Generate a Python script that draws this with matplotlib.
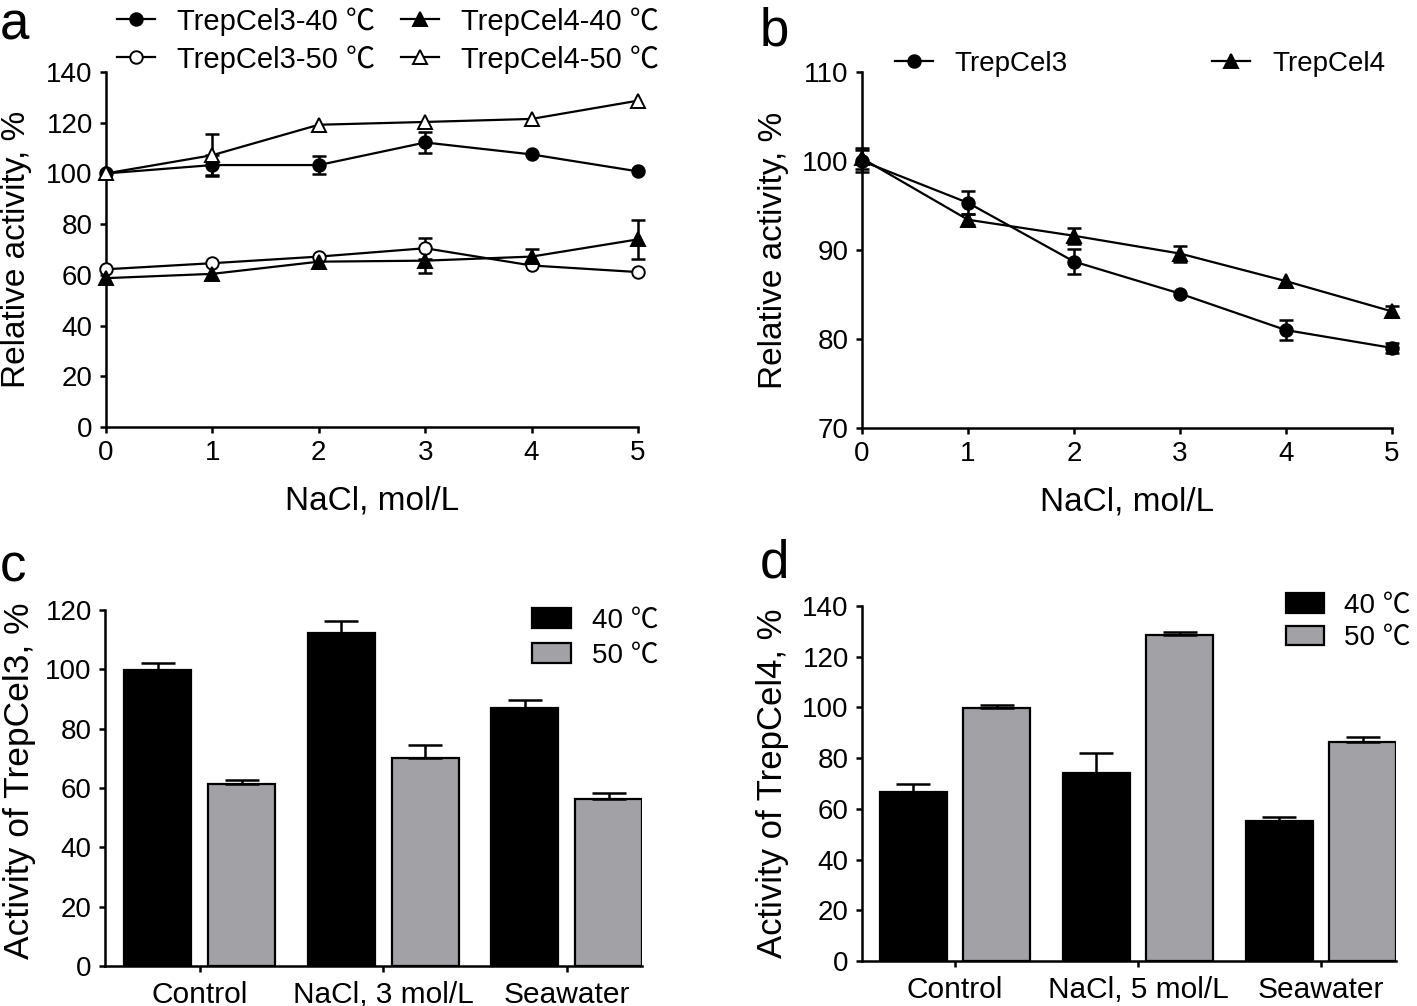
import matplotlib
matplotlib.use('Agg')
import matplotlib.pyplot as plt
from matplotlib.lines import Line2D
from matplotlib.patches import Patch
import numpy as np

plt.rcParams['font.family'] = ['Liberation Sans', 'Noto Sans CJK SC']

# ---------------- data ----------------
nacl = [0, 1, 2, 3, 4, 5]

# panel a
a_cel3_40 = [100.0, 103.3, 103.3, 112.2, 107.5, 100.8]
a_cel3_40_err = [0, 4.0, 3.5, 4.0, 0, 0]
a_cel3_50 = [62.2, 64.6, 67.2, 70.5, 63.7, 61.1]
a_cel3_50_err = [0, 0, 0, 4.2, 0, 0]
a_cel4_40 = [58.7, 60.4, 65.2, 65.6, 67.2, 74.0]
a_cel4_40_err = [0, 0, 0, 5.0, 3.0, 7.8]
a_cel4_50 = [100.0, 107.2, 119.2, 120.3, 121.5, 128.7]
a_cel4_50_err = [0, 8.4, 0, 0, 0, 0]

# panel b
b_cel3 = [100.0, 95.3, 88.7, 85.1, 81.0, 79.0]
b_cel3_err = [1.2, 1.3, 1.4, 0, 1.1, 0.6]
b_cel4 = [100.3, 93.4, 91.6, 89.6, 86.5, 83.1]
b_cel4_err = [1.2, 0.6, 0.9, 0.9, 0, 0.6]

# panel c
c_categories = ['Control', 'NaCl, 3 mol/L', 'Seawater']
c_40 = [99.8, 112.1, 87.0]
c_40_err = [2.2, 4.3, 2.8]
c_50 = [61.5, 70.0, 56.2]
c_50_err = [1.2, 4.4, 2.1]

# panel d
d_categories = ['Control', 'NaCl, 5 mol/L', 'Seawater']
d_40 = [66.8, 74.1, 55.2]
d_40_err = [2.9, 7.9, 1.6]
d_50 = [99.8, 128.4, 86.5]
d_50_err = [1.2, 1.3, 2.0]

temp_labels = ['40 ℃', '50 ℃']

# ---------------- figure ----------------
W, H = 1417, 1006
fig = plt.figure(figsize=(W / 100, H / 100), dpi=100)


def px_axes(left, right, top, bottom):
    return fig.add_axes([left / W, 1 - bottom / H, (right - left) / W, (bottom - top) / H])


GRAY = '#A1A1A6'
LW = 1.8
FS_TICK = 20
FS_LAB = 24


def style(ax):
    for s in ['top', 'right']:
        ax.spines[s].set_visible(False)
    for s in ['left', 'bottom']:
        ax.spines[s].set_linewidth(LW)
    ax.tick_params(direction='out', length=4.5, width=LW, labelsize=FS_TICK, pad=5)


def line_series(ax, x, y, err, marker, filled):
    x = np.asarray(x); y = np.asarray(y); err = np.asarray(err)
    m = err > 0
    if m.any():
        ax.errorbar(x[m], y[m], yerr=err[m], fmt='none', ecolor='black',
                    elinewidth=1.8, capsize=5, capthick=1.8, zorder=2, clip_on=False)
    ax.plot(x, y, color='black', lw=1.6, marker=marker, markersize=9 if marker == 'o' else 10,
            markerfacecolor='black' if filled else 'white', markeredgecolor='black',
            markeredgewidth=1.4, zorder=3, clip_on=False)


# ---------- panel a ----------
axa = px_axes(106, 638, 72, 427)
style(axa)
line_series(axa, nacl, a_cel3_40, a_cel3_40_err, 'o', True)
line_series(axa, nacl, a_cel3_50, a_cel3_50_err, 'o', False)
line_series(axa, nacl, a_cel4_40, a_cel4_40_err, '^', True)
line_series(axa, nacl, a_cel4_50, a_cel4_50_err, '^', False)
axa.set_xlim(0, 5)
axa.set_ylim(0, 140)
axa.set_xticks(nacl)
axa.set_yticks(np.arange(0, 141, 20))
axa.set_xlabel('NaCl, mol/L', fontsize=FS_LAB, labelpad=14)
axa.set_ylabel('Relative activity, %', fontsize=FS_LAB)
axa.yaxis.set_label_coords(-0.14, 0.5)

def lh(marker, filled):
    return Line2D([], [], color='black', lw=1.6, marker=marker, markersize=9 if marker == 'o' else 10,
                  markerfacecolor='black' if filled else 'white', markeredgecolor='black', markeredgewidth=1.4)

handles_a = [lh('o', True), lh('o', False), lh('^', True), lh('^', False)]
labels_a = ['TrepCel3-40 ℃', 'TrepCel3-50 ℃', 'TrepCel4-40 ℃', 'TrepCel4-50 ℃']
fig.legend(handles_a, labels_a, ncol=2, frameon=False, fontsize=21, loc='upper left',
           bbox_to_anchor=(117 / W, 1 - 7 / H), borderpad=0, borderaxespad=0,
           handlelength=1.3, handletextpad=0.75, columnspacing=0.9, labelspacing=0.33)

# ---------- panel b ----------
axb = px_axes(862, 1392, 72, 428)
style(axb)
line_series(axb, nacl, b_cel3, b_cel3_err, 'o', True)
line_series(axb, nacl, b_cel4, b_cel4_err, '^', True)
axb.set_xlim(0, 5)
axb.set_ylim(70, 110)
axb.set_xticks(nacl)
axb.set_yticks(np.arange(70, 111, 10))
axb.set_xlabel('NaCl, mol/L', fontsize=FS_LAB, labelpad=14)
axb.set_ylabel('Relative activity, %', fontsize=FS_LAB)
axb.yaxis.set_label_coords(-0.137, 0.5)
fig.legend([lh('o', True), lh('^', True)], ['TrepCel3', 'TrepCel4'], ncol=2, frameon=False,
           fontsize=20, loc='upper left', bbox_to_anchor=(895 / W, 1 - 51 / H), borderpad=0,
           borderaxespad=0, handlelength=1.35, handletextpad=0.8, columnspacing=5.2)


# ---------- bar panels ----------
def bar_panel(ax, cats, v40, e40, v50, e50, ymax, xlim):
    style(ax)
    x = np.arange(len(cats))
    off, w = 0.228, 0.365
    ax.bar(x - off, v40, width=w, color='black', edgecolor='black', linewidth=1.6, zorder=2)
    ax.bar(x + off, v50, width=w, color=GRAY, edgecolor='black', linewidth=1.6, zorder=2)
    ax.errorbar(x - off, v40, yerr=[np.zeros(len(x)), e40], fmt='none', ecolor='black',
                elinewidth=1.8, capsize=12, capthick=1.8, zorder=3)
    ax.errorbar(x + off, v50, yerr=[np.zeros(len(x)), e50], fmt='none', ecolor='black',
                elinewidth=1.8, capsize=12, capthick=1.8, zorder=3)
    ax.set_xlim(*xlim)
    ax.set_ylim(0, ymax)
    ax.set_xticks(x)
    ax.set_xticklabels(cats, fontsize=21.5)
    ax.set_yticks(np.arange(0, ymax + 1, 20))
    ax.tick_params(axis='x', pad=6)


axc = px_axes(105, 642, 610, 966)
bar_panel(axc, c_categories, c_40, c_40_err, c_50, c_50_err, 120, (-0.516, 2.41))
axc.set_ylabel('Activity of TrepCel3, %', fontsize=25.5)
axc.yaxis.set_label_coords(-0.128, 0.52)

axd = px_axes(862, 1396, 606, 961)
bar_panel(axd, d_categories, d_40, d_40_err, d_50, d_50_err, 140, (-0.508, 2.41))
axd.set_ylabel('Activity of TrepCel4, %', fontsize=25)
axd.yaxis.set_label_coords(-0.137, 0.5)

bar_handles = [Patch(facecolor='black', edgecolor='black', linewidth=1.6),
               Patch(facecolor=GRAY, edgecolor='black', linewidth=1.6)]
fig.legend(bar_handles, temp_labels, frameon=False, fontsize=20, loc='upper left',
           bbox_to_anchor=(532 / W, 1 - 608 / H), borderpad=0, borderaxespad=0,
           handlelength=1.4, handleheight=0.72, handletextpad=0.75, labelspacing=0.32)
fig.legend(bar_handles, temp_labels, frameon=False, fontsize=20, loc='upper left',
           bbox_to_anchor=(1286 / W, 1 - 593 / H), borderpad=0, borderaxespad=0,
           handlelength=1.35, handleheight=0.72, handletextpad=0.75, labelspacing=0.22)

# ---------- panel letters ----------
for txt, xp, yp in [('a', 0, 40), ('b', 760, 45), ('c', 0, 582), ('d', 760, 578)]:
    fig.text(xp / W, 1 - yp / H, txt, fontsize=38, ha='left', va='baseline')

fig.savefig('out.png', dpi=100)
